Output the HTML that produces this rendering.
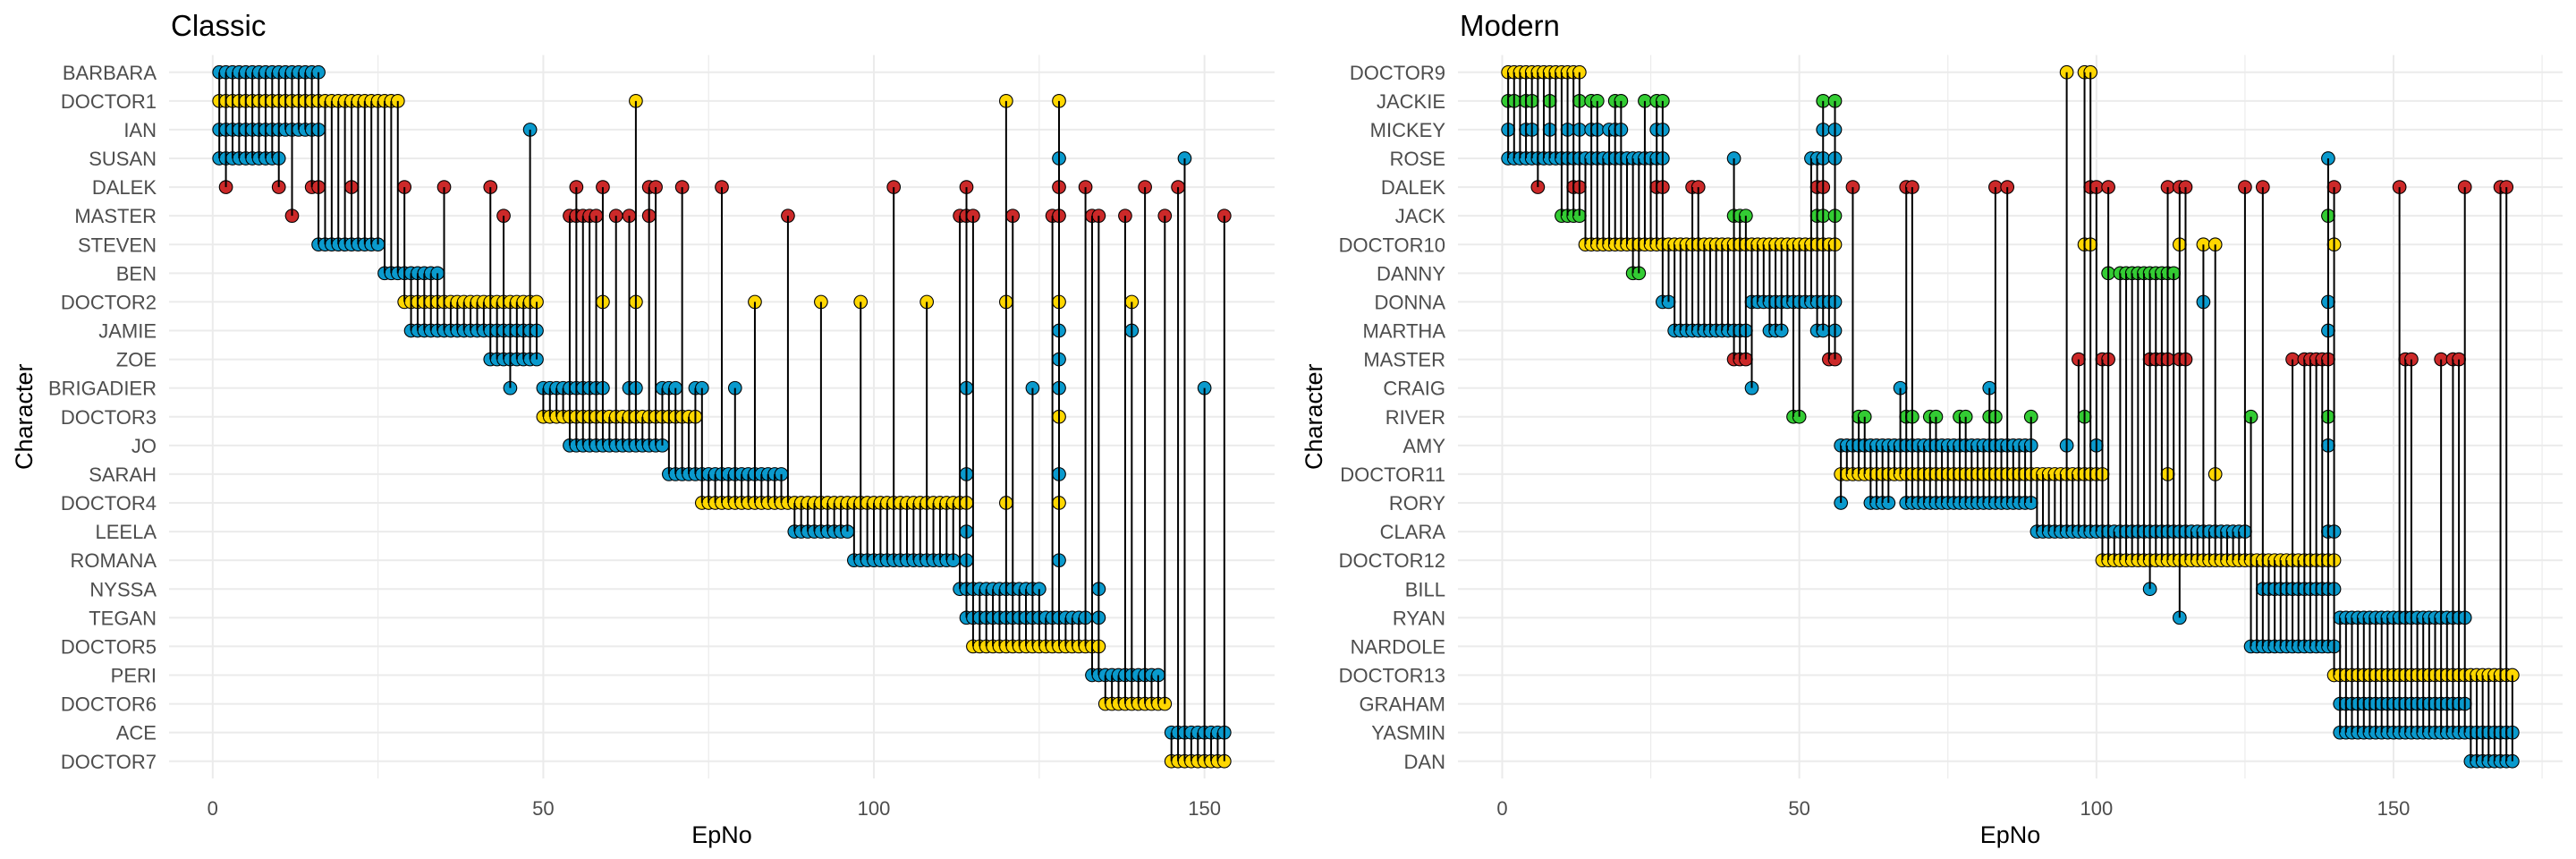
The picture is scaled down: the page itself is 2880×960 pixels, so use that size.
<!DOCTYPE html>
<html><head><meta charset="utf-8">
<style>
html,body{margin:0;padding:0;background:#fff;}
svg{display:block;font-family:"Liberation Sans",Arial,sans-serif;}
</style></head>
<body>
<svg id="chart" width="2880" height="960" viewBox="0 0 2880 960" xmlns="http://www.w3.org/2000/svg"></svg>
<script>
// ---------- Data ----------
const classicRows = ["BARBARA","DOCTOR1","IAN","SUSAN","DALEK","MASTER","STEVEN","BEN","DOCTOR2","JAMIE","ZOE","BRIGADIER","DOCTOR3","JO","SARAH","DOCTOR4","LEELA","ROMANA","NYSSA","TEGAN","DOCTOR5","PERI","DOCTOR6","ACE","DOCTOR7"];
const modernRows = ["DOCTOR9","JACKIE","MICKEY","ROSE","DALEK","JACK","DOCTOR10","DANNY","DONNA","MARTHA","MASTER","CRAIG","RIVER","AMY","DOCTOR11","RORY","CLARA","DOCTOR12","BILL","RYAN","NARDOLE","DOCTOR13","GRAHAM","YASMIN","DAN"];
const xTicks = [0,50,100,150];

const classicEpisodes = {
BARBARA:[1,2,3,4,5,6,7,8,9,10,11,12,13,14,15,16],
DOCTOR1:[1,2,3,4,5,6,7,8,9,10,11,12,13,14,15,16,17,18,19,20,21,22,23,24,25,26,27,28,64,120,128],
IAN:[1,2,3,4,5,6,7,8,9,10,11,12,13,14,15,16,48],
SUSAN:[1,2,3,4,5,6,7,8,9,10,128,147],
DALEK:[2,10,15,16,21,29,35,42,55,59,66,67,71,77,103,114,128,132,141,146],
MASTER:[12,44,54,55,56,57,58,61,63,66,87,113,114,115,121,127,128,133,134,138,144,153],
STEVEN:[16,17,18,19,20,21,22,23,24,25],
BEN:[26,27,28,29,30,31,32,33,34],
DOCTOR2:[29,30,31,32,33,34,35,36,37,38,39,40,41,42,43,44,45,46,47,48,49,59,64,82,92,98,108,120,128,139],
JAMIE:[30,31,32,33,34,35,36,37,38,39,40,41,42,43,44,45,46,47,48,49,128,139],
ZOE:[42,43,44,45,46,47,48,49,128],
BRIGADIER:[45,50,51,52,53,54,55,56,57,58,59,63,64,68,69,70,73,74,79,114,124,128,150],
DOCTOR3:[50,51,52,53,54,55,56,57,58,59,60,61,62,63,64,65,66,67,68,69,70,71,72,73,128],
JO:[54,55,56,57,58,59,60,61,62,63,64,65,66,67,68],
SARAH:[69,70,71,72,73,74,75,76,77,78,79,80,81,82,83,84,85,86,114,128],
DOCTOR4:[74,75,76,77,78,79,80,81,82,83,84,85,86,87,88,89,90,91,92,93,94,95,96,97,98,99,100,101,102,103,104,105,106,107,108,109,110,111,112,113,114,120,128],
LEELA:[88,89,90,91,92,93,94,95,96,114],
ROMANA:[97,98,99,100,101,102,103,104,105,106,107,108,109,110,111,112,114,128],
NYSSA:[113,114,115,116,117,118,119,120,121,122,123,124,125,134],
TEGAN:[114,115,116,117,118,119,120,121,122,123,124,125,126,127,128,129,130,131,132,134],
DOCTOR5:[115,116,117,118,119,120,121,122,123,124,125,126,127,128,129,130,131,132,133,134],
PERI:[133,134,135,136,137,138,139,140,141,142,143],
DOCTOR6:[135,136,137,138,139,140,141,142,143,144],
ACE:[145,146,147,148,149,150,151,152,153],
DOCTOR7:[145,146,147,148,149,150,151,152,153]
};

const modernEpisodes = {
DOCTOR9:[1,2,3,4,5,6,7,8,9,10,11,12,13,95,98,99],
JACKIE:[1,2,4,5,8,13,15,16,19,20,24,26,27,54,56],
MICKEY:[1,4,5,8,11,13,15,16,18,19,20,26,27,54,56],
ROSE:[1,2,3,4,5,6,7,8,9,10,11,12,13,14,15,16,17,18,19,20,21,22,23,24,25,26,27,39,52,53,54,56,139],
DALEK:[6,12,13,26,27,32,33,53,54,59,68,69,83,85,99,100,102,112,114,115,125,128,140,151,162,168,169],
JACK:[10,11,12,13,39,40,41,53,54,56,139],
DOCTOR10:[14,15,16,17,18,19,20,21,22,23,24,25,26,27,28,29,30,31,32,33,34,35,36,37,38,39,40,41,42,43,44,45,46,47,48,49,50,51,52,53,54,55,56,98,99,114,118,120,140],
DANNY:[22,23,102,104,105,106,107,108,109,110,111,112,113],
DONNA:[27,28,42,43,44,45,46,47,48,49,50,51,52,53,54,55,56,118,139],
MARTHA:[29,30,31,32,33,34,35,36,37,38,39,40,41,45,46,47,53,54,56,139],
MASTER:[39,40,41,55,56,97,101,102,109,110,111,112,114,115,133,135,136,137,138,139,152,153,158,160,161],
CRAIG:[42,67,82],
RIVER:[49,50,60,61,68,69,72,73,77,78,82,83,89,98,126,139],
AMY:[57,58,59,60,61,62,63,64,65,66,67,68,69,70,71,72,73,74,75,76,77,78,79,80,81,82,83,84,85,86,87,88,89,95,100,139],
DOCTOR11:[57,58,59,60,61,62,63,64,65,66,67,68,69,70,71,72,73,74,75,76,77,78,79,80,81,82,83,84,85,86,87,88,89,90,91,92,93,94,95,96,97,98,99,100,101,112,120],
RORY:[57,62,63,64,65,68,69,70,71,72,73,74,75,76,77,78,79,80,81,82,83,84,85,86,87,88,89],
CLARA:[90,91,92,93,94,95,96,97,98,99,100,101,102,103,104,105,106,107,108,109,110,111,112,113,114,115,116,117,118,119,120,121,122,123,124,125,139,140],
DOCTOR12:[101,102,103,104,105,106,107,108,109,110,111,112,113,114,115,116,117,118,119,120,121,122,123,124,125,126,127,128,129,130,131,132,133,134,135,136,137,138,139,140],
BILL:[109,128,129,130,131,132,133,134,135,136,137,138,139,140],
RYAN:[114,141,142,143,144,145,146,147,148,149,150,151,152,153,154,155,156,157,158,159,160,161,162],
NARDOLE:[126,127,128,129,130,131,132,133,134,135,136,137,138,139,140],
DOCTOR13:[140,141,142,143,144,145,146,147,148,149,150,151,152,153,154,155,156,157,158,159,160,161,162,163,164,165,166,167,168,169,170],
GRAHAM:[141,142,143,144,145,146,147,148,149,150,151,152,153,154,155,156,157,158,159,160,161,162],
YASMIN:[141,142,143,144,145,146,147,148,149,150,151,152,153,154,155,156,157,158,159,160,161,162,163,164,165,166,167,168,169,170],
DAN:[163,164,165,166,167,168,169,170]
};

const redChars = ["DALEK","MASTER"];
const greenChars = ["JACKIE","JACK","DANNY","RIVER"];

// ---------- Drawing ----------
const NS = "http://www.w3.org/2000/svg";
const svg = document.getElementById("chart");
function mk(tag, attrs, parent){
  const e = document.createElementNS(NS, tag);
  for (const k in attrs) e.setAttribute(k, attrs[k]);
  (parent||svg).appendChild(e);
  return e;
}
function colorOf(c){
  if (c.indexOf("DOCTOR")===0) return "#FFD700";
  if (redChars.includes(c)) return "#CC2929";
  if (greenChars.includes(c)) return "#33CC33";
  return "#0A9ACD";
}

function drawPanel(cfg){
  const {title, rows, eps, left, right, top, bottom, labelRight, yTitleX, key} = cfg;
  const g = mk("g", {});
  
  
  // x domain with 5% expansion
  let mn = Infinity, mx = -Infinity;
  rows.forEach(r => (eps[r]||[]).forEach(v => { if (v<mn) mn=v; if (v>mx) mx=v; }));
  const pad = (mx-mn)*0.05, d0 = mn-pad, d1 = mx+pad;
  const xs = v => left + (v-d0)/(d1-d0)*(right-left);
  const step = (bottom-top)/(rows.length-1+1.2);
  const ys = i => top + step*(0.6+i);

  // minor grid
  for (let i=0;i<xTicks.length-1;i++){
    const m = (xTicks[i]+xTicks[i+1])/2;
    const l = mk("line",{x1:xs(m),x2:xs(m),y1:top,y2:bottom,stroke:"#EBEBEB","stroke-width":1.2},g);
    
    
  }
  const lastMinor = xTicks[xTicks.length-1] + (xTicks[1]-xTicks[0])/2;
  if (lastMinor < d1){
    const l = mk("line",{x1:xs(lastMinor),x2:xs(lastMinor),y1:top,y2:bottom,stroke:"#EBEBEB","stroke-width":1.2},g);
    
    
  }
  // major x grid + labels
  xTicks.forEach(t => {
    const l = mk("line",{x1:xs(t),x2:xs(t),y1:top,y2:bottom,stroke:"#EBEBEB","stroke-width":2},g);
    
    
    const tx = mk("text",{x:xs(t),y:bottom+41,"text-anchor":"middle","font-size":22,fill:"#4D4D4D"},g);
    tx.textContent = t;
    
    
  });
  // row grid + labels
  rows.forEach((r,i) => {
    const l = mk("line",{x1:left,x2:right,y1:ys(i),y2:ys(i),stroke:"#EBEBEB","stroke-width":2},g);
    
    
    const tx = mk("text",{x:labelRight,y:ys(i)+8,"text-anchor":"end","font-size":22,fill:"#4D4D4D"},g);
    tx.textContent = r;
    
    
  });
  // points
  rows.forEach((r,i) => {
    (eps[r]||[]).forEach(v => {
      const c = mk("circle",{cx:xs(v),cy:ys(i),r:7.3,fill:colorOf(r),stroke:"#000","stroke-width":1.1},g);
      
      
    });
  });
  // segments per episode
  const byEp = {};
  rows.forEach((r,i) => (eps[r]||[]).forEach(v => { (byEp[v] = byEp[v]||[]).push(i); }));
  Object.keys(byEp).forEach(k => {
    const arr = byEp[k];
    const a = Math.min(...arr), b = Math.max(...arr);
    if (a===b) return;
    const l = mk("line",{x1:xs(+k),x2:xs(+k),y1:ys(a),y2:ys(b),stroke:"#000","stroke-width":2},g);
    
    
  });
  // titles
  const t = mk("text",{x:left+2,y:40,"font-size":33,fill:"#000"},g);
  t.textContent = title;
  
  
  const xt = mk("text",{x:(left+right)/2,y:bottom+72,"text-anchor":"middle","font-size":27,fill:"#000"},g);
  xt.textContent = "EpNo";
  
  
  const cy = (top+bottom)/2;
  const yt = mk("text",{x:yTitleX,y:cy,"text-anchor":"middle","font-size":27,fill:"#000",transform:`rotate(-90 ${yTitleX} ${cy})`},g);
  yt.textContent = "Character";
  
  
}

drawPanel({key:"classic",title:"Classic",rows:classicRows,eps:classicEpisodes,left:189,right:1425,top:61.5,bottom:870,labelRight:175,yTitleX:36});
drawPanel({key:"modern",title:"Modern",rows:modernRows,eps:modernEpisodes,left:1630,right:2865,top:61.5,bottom:870,labelRight:1616,yTitleX:1478});
</script>
</body></html>
